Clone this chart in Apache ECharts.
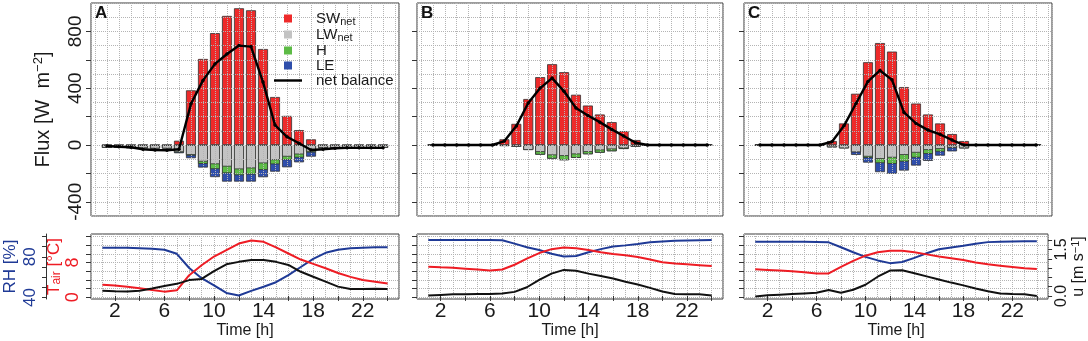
<!DOCTYPE html>
<html>
<head>
<meta charset="utf-8">
<script src="https://cdn.jsdelivr.net/npm/echarts@6/dist/echarts.min.js"></script>
<style>
  html, body { margin: 0; padding: 0; background: #fff; }
  #chart { width: 1088px; height: 341px; }
</style>
</head>
<body>
<div id="chart"></div>
<script>
// hours of the day
const hours = [1, 2, 3, 4, 5, 6, 7, 8, 9, 10, 11, 12, 13, 14, 15, 16, 17, 18, 19, 20, 21, 22, 23, 24];

// energy fluxes [W m-2], panel A
const swA  = [0, 0, 0, 0, 0, 0, 30, 385, 606, 788, 909, 963, 949, 676, 338, 205, 105, 40, 0, 0, 0, 0, 0, 0];
const lwA  = [-20, -20, -22, -22, -25, -25, -50, -70, -117, -135, -152, -171, -164, -129, -106, -82, -66, -47, -20, -20, -20, -20, -20, -20];
const hA   = [0, 0, 0, 0, 0, 0, -3, -5, -16, -35, -47, -42, -44, -47, -30, -24, -23, -6, 0, 0, 0, 0, 0, 0];
const leA  = [0, 0, 0, 0, 0, 0, -5, -18, -26, -56, -59, -45, -50, -51, -52, -51, -33, -29, -5, 0, 0, 0, 0, 0];
const netA = [-7, -12, -16, -30, -35, -37, -30, 290, 455, 571, 641, 700, 693, 443, 140, 58, 12, -35, -30, -23, -20, -20, -20, -20];

// panel B
const swB  = [0, 0, 0, 0, 0, 0, 40, 149, 324, 478, 569, 513, 354, 278, 215, 161, 98, 35, 0, 0, 0, 0, 0, 0];
const lwB  = [0, 0, 0, 0, 0, 0, -7, -12, -35, -49, -72, -77, -65, -49, -37, -30, -23, -12, 0, 0, 0, 0, 0, 0];
const hB   = [0, 0, 0, 0, 0, 0, 0, 0, 0, -19, -24, -30, -26, -16, -17, -14, -5, 0, 0, 0, 0, 0, 0, 0];
const leB  = [0, 0, 0, 0, 0, 0, 0, 0, 0, 0, 0, 0, 0, 0, 0, 0, 0, 0, 0, 0, 0, 0, 0, 0];
const netB = [0, 0, 0, 0, 0, 0, 28, 133, 296, 401, 471, 378, 261, 208, 161, 110, 63, 16, 0, 0, 0, 0, 0, 0];

// panel C
const swC  = [0, 0, 0, 0, 0, 0, 28, 152, 361, 583, 718, 658, 408, 292, 215, 152, 77, 28, 0, 0, 0, 0, 0, 0];
const lwC  = [0, 0, 0, 0, 0, 0, -16, -23, -51, -82, -98, -89, -70, -54, -35, -28, -19, -23, 0, 0, 0, 0, 0, 0];
const hC   = [0, 0, 0, 0, 0, 0, 0, 0, 0, -9, -30, -44, -47, -35, -28, -19, -3, 0, 0, 0, 0, 0, 0, 0];
const leC  = [0, 0, 0, 0, 0, 0, 0, 0, -19, -33, -63, -70, -63, -56, -49, -28, -23, 0, 0, 0, 0, 0, 0, 0];
const netC = [0, 0, 0, 0, 0, 0, 23, 135, 292, 448, 525, 459, 229, 152, 105, 75, 35, 0, 0, 0, 0, 0, 0, 0];

// meteorology: relative humidity [%], air temperature [°C], wind speed [m s-1]
const rhA   = [89, 89, 89, 88.5, 88, 87, 83, 69, 59, 52, 44.5, 42, 46.5, 50.5, 55, 62, 70, 78, 84, 87, 88.5, 89, 89.5, 89.5];
const tairA = [2.9, 2.7, 2.4, 2.1, 1.7, 1.3, 1.6, 5.1, 7.4, 9.4, 10.9, 12.4, 13.1, 12.8, 11.5, 10.1, 8.7, 7.7, 6.7, 5.6, 4.7, 4.0, 3.6, 3.2];
const uA    = [0.17, 0.15, 0.14, 0.17, 0.24, 0.32, 0.39, 0.51, 0.55, 0.8, 1.02, 1.1, 1.16, 1.16, 1.1, 1.0, 0.78, 0.62, 0.46, 0.3, 0.22, 0.22, 0.23, 0.22];

const rhB   = [96.5, 96.5, 96.5, 96.5, 96.5, 96.5, 96.4, 93, 89.5, 86.8, 83, 80.3, 80.8, 84.5, 87.6, 90.2, 91.3, 92.6, 94.3, 95.1, 95.8, 96.2, 96.4, 96.5];
const tairB = [7.05, 6.9, 6.8, 6.6, 6.4, 6.2, 6.4, 7.5, 8.9, 10.2, 11.1, 11.5, 11.3, 10.9, 10.4, 10.0, 9.7, 9.3, 8.7, 8.1, 7.8, 7.6, 7.4, 7.2];
const uB    = [0.01, 0.03, 0.05, 0.05, 0.06, 0.06, 0.08, 0.13, 0.28, 0.52, 0.72, 0.84, 0.81, 0.72, 0.64, 0.56, 0.46, 0.37, 0.26, 0.14, 0.06, 0.05, 0.05, 0.01];

const rhC   = [94.9, 94.9, 94.9, 94.9, 94.9, 94.6, 94.3, 89.5, 84.5, 80, 76.5, 73.8, 75, 79, 83.5, 87.5, 89.3, 91, 92.8, 94.5, 94.9, 95.2, 95.3, 95.3];
const tairC = [6.45, 6.3, 6.15, 6.0, 5.8, 5.5, 5.5, 7.0, 8.4, 9.6, 10.4, 10.75, 10.75, 10.4, 9.9, 9.4, 9.0, 8.6, 8.0, 7.6, 7.3, 7.0, 6.7, 6.5];
const uC    = [-0.02, 0.02, 0.04, 0.06, 0.08, 0.1, 0.19, 0.1, 0.2, 0.36, 0.62, 0.82, 0.83, 0.73, 0.63, 0.53, 0.43, 0.34, 0.24, 0.15, 0.08, 0.06, 0.05, 0.0];

// tick labels
const fluxTicks = [-400, -200, 0, 200, 400, 600, 800];
const fluxLabels = [-400, 0, 400, 800];
const timeTicks = [2, 4, 6, 8, 10, 12, 14, 16, 18, 20, 22, 24];
const timeLabels = [2, 6, 10, 14, 18, 22];
const tairTicks = [0, 2, 4, 6, 8, 10, 12, 14];
const tairLabels = [0, 8];
const rhTicks = [40, 50, 60, 70, 80, 90, 100];
const rhLabels = [40, 80];
const uTicks = [0, 0.3, 0.6, 0.9, 1.2, 1.5, 1.8];
const uLabels = [0, 1.5];

const panelNames = ['A', 'B', 'C'];
const flux = [
    { sw: swA, lw: lwA, h: hA, le: leA, net: netA },
    { sw: swB, lw: lwB, h: hB, le: leB, net: netB },
    { sw: swC, lw: lwC, h: hC, le: leC, net: netC }
];
const met = [
    { rh: rhA, tair: tairA, u: uA },
    { rh: rhB, tair: tairB, u: uB },
    { rh: rhC, tair: tairC, u: uC }
];

const font = '"Liberation Sans", Arial, sans-serif';
const RED = '#ee2a2a', GREY = '#c3c3c3', GREEN = '#5dbb46', BLUE = '#2f4eab';
const LRED = '#ee1c24', LBLUE = '#1f3a96';
const ink = '#1a1a1a';
const panelLeft = [91, 417, 744];
const panelWidth = [308, 306, 308];

const dotted = { show: true, lineStyle: { color: '#b4b4b4', type: 'dotted', width: 1 } };
const tickStyle = { color: '#333', width: 1 };
const pairs = arr => hours.map((h, k) => [h, arr[k]]);

const grids = [], xAxes = [], yAxes = [], series = [], titles = [];

for (let i = 0; i < 3; i++) {
    grids.push({ left: panelLeft[i], width: panelWidth[i], top: 3, height: 213,
        show: true, borderColor: '#3a3a3a', borderWidth: 1 });
}
for (let i = 0; i < 3; i++) {
    grids.push({ left: panelLeft[i], width: panelWidth[i], top: 234, height: 65,
        show: true, borderColor: '#3a3a3a', borderWidth: 1 });
}

for (let i = 0; i < 3; i++) {
    titles.push({ text: panelNames[i], left: panelLeft[i] + 4, top: 5, padding: 0,
        textStyle: { fontSize: 17, fontWeight: 'bold', fontFamily: font, color: '#111' } });

    // ---- top panel: flux bars
    const xTop = xAxes.push({
        type: 'value', gridIndex: i, min: -0.33, max: 25.33, minInterval: 1, maxInterval: 1, z: 3,
        axisLine: { show: false }, axisTick: { show: false }, axisLabel: { show: false },
        splitLine: dotted
    }) - 1;
    const yTop = yAxes.push({
        type: 'value', gridIndex: i, min: -500, max: 1000, interval: 100, z: 3,
        axisLine: { show: false }, axisTick: { show: false }, axisLabel: { show: false },
        splitLine: dotted
    }) - 1;
    yAxes.push({
        type: 'value', gridIndex: i, min: -500, max: 1000, minInterval: 200, maxInterval: 200,
        position: 'left',
        axisLine: { show: false },
        axisTick: { show: true, length: 5, customValues: fluxTicks, lineStyle: tickStyle },
        axisLabel: {
            show: i === 0, customValues: fluxLabels, rotate: 90, margin: 6,
            fontSize: 19, fontFamily: font, color: ink,
            formatter: v => (v % 400 === 0 ? String(v) : '')
        },
        splitLine: { show: false },
        name: i === 0 ? '{a|Flux [W  m}{p|−2}{a|]}' : '',
        nameLocation: 'middle', nameRotate: 90, nameGap: 36,
        nameTextStyle: {
            rich: {
                a: { fontSize: 20, fontFamily: font, color: ink },
                p: { fontSize: 13, fontFamily: font, color: ink, padding: [0, 0, 10, 0] }
            }
        }
    });

    const f = flux[i];
    const lwh = f.lw.map((v, k) => v + f.h[k]);
    const total = lwh.map((v, k) => v + f.le[k]);
    const bar = (name, data, color) => ({
        type: 'bar', name, xAxisIndex: xTop, yAxisIndex: yTop, data: pairs(data),
        barWidth: 10, barGap: '-100%', z: 2,
        itemStyle: { color, borderColor: '#333', borderWidth: 0.8 }
    });
    series.push(bar('LE', total, BLUE));
    series.push(bar('H', lwh, GREEN));
    series.push(bar('LW_net', f.lw, GREY));
    series.push(bar('SW_net', f.sw, RED));
    series.push({
        type: 'line', name: 'net balance', xAxisIndex: xTop, yAxisIndex: yTop, data: pairs(f.net),
        symbol: 'circle', symbolSize: 3.5, z: 5,
        lineStyle: { color: '#000', width: 2.4 }, itemStyle: { color: '#000' }
    });

    // ---- bottom panel: meteorology
    const xBot = xAxes.push({
        type: 'value', gridIndex: 3 + i, min: 0.08, max: 24.92, minInterval: 1, maxInterval: 1,
        axisLine: { show: false }, axisTick: { show: false }, axisLabel: { show: false },
        splitLine: dotted
    }) - 1;
    xAxes.push({
        type: 'value', gridIndex: 3 + i, min: 0.08, max: 24.92, minInterval: 2, maxInterval: 2,
        position: 'bottom',
        axisLine: { show: false },
        axisTick: { show: true, length: 5, customValues: timeTicks, lineStyle: tickStyle },
        axisLabel: {
            customValues: timeLabels, margin: 2, fontSize: 21, fontFamily: font, color: ink,
            formatter: v => ((v - 2) % 4 === 0 ? String(v) : '')
        },
        splitLine: { show: false },
        name: 'Time [h]', nameLocation: 'middle', nameGap: 21,
        nameTextStyle: { fontSize: 16, fontFamily: font, color: ink }
    });
    const yT = yAxes.push({
        type: 'value', gridIndex: 3 + i, min: -0.4, max: 14.6, minInterval: 2, maxInterval: 2,
        position: 'left',
        axisLine: { show: false },
        axisTick: { show: true, length: 5, customValues: tairTicks, lineStyle: tickStyle },
        axisLabel: {
            show: i === 0, customValues: tairLabels, rotate: 90, margin: 9,
            fontSize: 18, fontFamily: font, color: LRED,
            formatter: v => (v % 8 === 0 ? String(v) : '')
        },
        splitLine: dotted,
        name: i === 0 ? '{t|T}{s|air}{t| [°C]}' : '',
        nameLocation: 'middle', nameRotate: 90, nameGap: 26,
        nameTextStyle: {
            rich: {
                t: { fontSize: 17, fontFamily: font, color: LRED },
                s: { fontSize: 12, fontFamily: font, color: LRED, padding: [6, 0, 0, 0] }
            }
        }
    }) - 1;
    const yRH = yAxes.push({
        type: 'value', gridIndex: 3 + i, min: 38.5, max: 102.5, position: 'left', offset: 45,
        show: i === 0,
        axisLine: { show: true, lineStyle: { color: '#333', width: 1 } },
        axisTick: { show: true, length: 4, customValues: rhTicks, lineStyle: tickStyle },
        axisLabel: {
            customValues: rhLabels, rotate: 90, margin: 7, fontSize: 17, fontFamily: font, color: LBLUE,
            formatter: v => (v === 40 || v === 80 ? String(v) : '')
        },
        splitLine: { show: false },
        name: 'RH [%]', nameLocation: 'middle', nameRotate: 90, nameGap: 27,
        nameTextStyle: { fontSize: 17, fontFamily: font, color: LBLUE }
    }) - 1;
    const yU = yAxes.push({
        type: 'value', gridIndex: 3 + i, min: -0.1, max: 2.0, position: 'right',
        show: i === 2,
        axisLine: { show: false },
        axisTick: { show: true, length: 4, customValues: uTicks, lineStyle: tickStyle },
        axisLabel: {
            customValues: uLabels, rotate: 90, margin: 5, fontSize: 16, fontFamily: font, color: ink,
            formatter: v => (Math.abs(v) < 1e-6 || Math.abs(v - 1.5) < 1e-6 ? v.toFixed(1) : '')
        },
        splitLine: { show: false },
        name: '{a|u [m s}{p|−1}{a|]}', nameLocation: 'middle', nameRotate: 90, nameGap: 15,
        nameTextStyle: {
            rich: {
                a: { fontSize: 16, fontFamily: font, color: ink },
                p: { fontSize: 11, fontFamily: font, color: ink, padding: [0, 0, 7, 0] }
            }
        }
    }) - 1;

    const m = met[i];
    const metLine = (name, data, yIdx, color) => ({
        type: 'line', name, xAxisIndex: xBot, yAxisIndex: yIdx, data: pairs(data),
        showSymbol: false, symbol: 'none', z: 4,
        lineStyle: { color, width: 2 }
    });
    series.push(metLine('RH', m.rh, yRH, LBLUE));
    series.push(metLine('Tair', m.tair, yT, LRED));
    series.push(metLine('u', m.u, yU, '#111'));
}

const legendNames = {
    'SW_net': '{m|SW}{s|net}',
    'LW_net': '{m|LW}{s|net}',
    'H': '{m|H}',
    'LE': '{m|LE}',
    'net balance': '{m|net balance}'
};
const sq = 'path://M0,0H10V10H0Z';

const chart = echarts.init(document.getElementById('chart'));
chart.setOption({
    animation: false,
    backgroundColor: '#fff',
    title: titles,
    grid: grids,
    xAxis: xAxes,
    yAxis: yAxes,
    legend: {
        left: 274, top: 11, orient: 'vertical', padding: 0,
        itemWidth: 28, itemHeight: 8, itemGap: 0, selectedMode: false,
        itemStyle: { borderWidth: 0 },
        data: [
            { name: 'SW_net', icon: sq },
            { name: 'LW_net', icon: sq },
            { name: 'H', icon: sq },
            { name: 'LE', icon: sq },
            { name: 'net balance', icon: 'path://M0,0H30V2.6H0Z' }
        ],
        formatter: name => legendNames[name],
        textStyle: {
            padding: [0, 0, 0, 9],
            rich: {
                m: { fontSize: 15, lineHeight: 18, fontFamily: font, color: ink },
                s: { fontSize: 11, fontFamily: font, color: ink, padding: [6, 0, 0, 0] }
            }
        }
    },
    series: series
});
</script>
</body>
</html>
